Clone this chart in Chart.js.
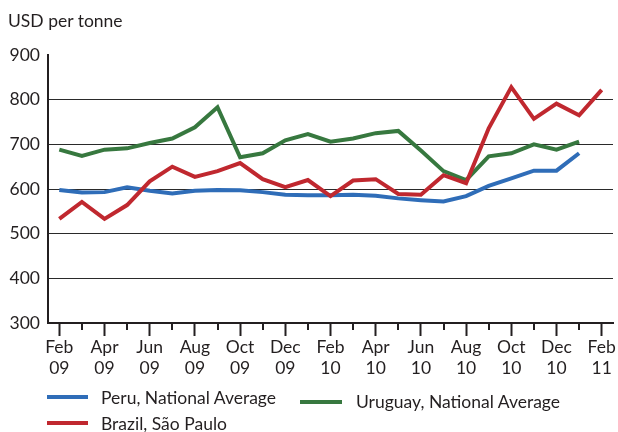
<!DOCTYPE html>
<html>
<head>
<meta charset="utf-8">
<script src="https://cdn.jsdelivr.net/npm/chart.js@4"></script>
<style>
  html,body{margin:0;padding:0;background:#fff;}
  #wrap{position:relative;width:618px;height:432px;font-family:Lato, "Open Sans", sans-serif;color:#231f20;}
  #c{position:absolute;left:0;top:0;}
  .t{position:absolute;font-size:17.5px;line-height:18px;white-space:nowrap;}
  .sw{position:absolute;height:4px;}
</style>
</head>
<body>
<div id="wrap">
  <canvas id="c" width="618" height="432"></canvas>
  <div class="t" style="left:8px;top:12px;">USD per tonne</div>
  <div class="sw" style="left:47px;top:395px;width:41px;background:#2f6db8;"></div>
  <div class="t" style="left:101px;top:389px;">Peru, National Average</div>
  <div class="sw" style="left:300px;top:400px;width:42px;background:#37783f;"></div>
  <div class="t" style="left:356px;top:393px;">Uruguay, National Average</div>
  <div class="sw" style="left:47px;top:421px;width:41px;background:#c0282f;"></div>
  <div class="t" style="left:101px;top:415px;">Brazil, São Paulo</div>
</div>
<script>
const categories = ['Feb 09','Mar 09','Apr 09','May 09','Jun 09','Jul 09','Aug 09','Sep 09','Oct 09','Nov 09','Dec 09','Jan 10',
  'Feb 10','Mar 10','Apr 10','May 10','Jun 10','Jul 10','Aug 10','Sep 10','Oct 10','Nov 10','Dec 10','Jan 11','Feb 11'];
const peru = [598,592,593,604,596,590,596,598,597,593,587,586,586,587,585,579,575,572,584,607,624,641,641,680];
const uruguay = [688,674,688,691,703,713,738,783,671,680,709,723,706,713,725,730,686,640,620,673,680,700,688,706];
const brazil = [533,571,533,564,617,650,627,640,658,622,604,620,584,619,622,589,587,631,613,736,828,757,791,765,822];
const yTicks = [300,400,500,600,700,800,900];

const FONT = {family:'Lato, "Open Sans", sans-serif', size:17.5};

const shortTicks = {
  id:'shortTicks',
  afterDraw(chart){
    const x = chart.scales.x, ctx = chart.ctx, bottom = chart.chartArea.bottom;
    ctx.save();
    ctx.strokeStyle = '#231f20';
    ctx.lineWidth = 2;
    categories.forEach((c,i)=>{
      if(i%2===1){
        const px = Math.round(x.getPixelForValue(i));
        ctx.beginPath();
        ctx.moveTo(px, bottom);
        ctx.lineTo(px, bottom+7);
        ctx.stroke();
      }
    });
    ctx.restore();
  }
};

new Chart(document.getElementById('c'), {
  type:'line',
  data:{
    labels:categories,
    datasets:[
      {label:'Brazil, São Paulo', data:brazil, borderColor:'#c0282f', borderWidth:4, pointRadius:0, tension:0, fill:false},
      {label:'Uruguay, National Average', data:uruguay, borderColor:'#37783f', borderWidth:4, pointRadius:0, tension:0, fill:false},
      {label:'Peru, National Average', data:peru, borderColor:'#2f6db8', borderWidth:4, pointRadius:0, tension:0, fill:false}
    ]
  },
  options:{
    responsive:false,
    animation:false,
    events:[],
    layout:{padding:{left:0,right:5,top:55,bottom:0}},
    plugins:{legend:{display:false}, tooltip:{enabled:false}, title:{display:false}},
    scales:{
      x:{
        type:'category',
        offset:true,
        afterFit(s){ s.height = 109; },
        border:{display:true,color:'#231f20',width:2},
        grid:{
          offset:false,
          drawOnChartArea:false,
          drawTicks:true,
          tickLength:13,
          tickWidth:2,
          tickColor:(c)=> (c.index%2===0 ? '#231f20' : 'rgba(0,0,0,0)')
        },
        ticks:{
          autoSkip:false,
          maxRotation:0,
          minRotation:0,
          padding:1,
          color:'#231f20',
          font:{...FONT, lineHeight:1.2},
          callback:(v,i)=> i%2===0 ? categories[i].split(' ') : ''
        }
      },
      y:{
        min:300,max:900,
        afterFit(s){ s.width = 48; },
        afterBuildTicks(s){ s.ticks = yTicks.map(v=>({value:v})); },
        border:{display:true,color:'#231f20',width:2},
        grid:{
          drawTicks:false,
          lineWidth:1,
          color:(c)=> (c.tick && c.tick.value===900) ? 'rgba(0,0,0,0)' : '#2a2a2a'
        },
        ticks:{padding:8,color:'#231f20',font:FONT}
      }
    }
  },
  plugins:[shortTicks]
});
</script>
</body>
</html>
